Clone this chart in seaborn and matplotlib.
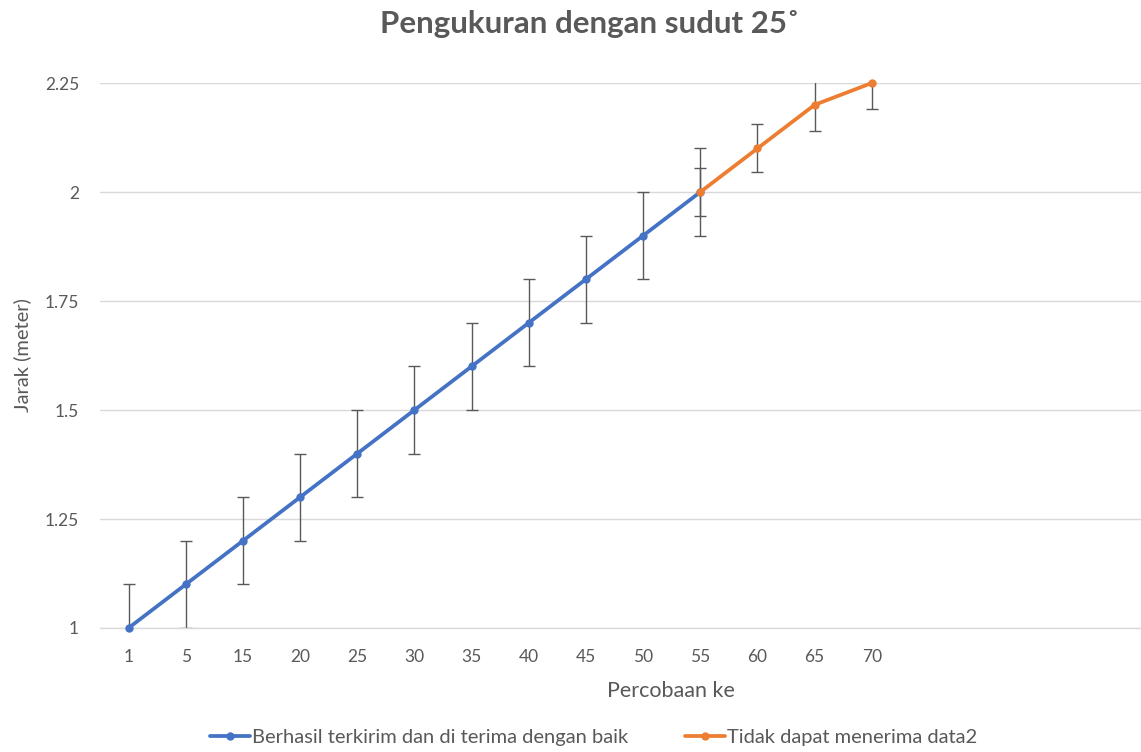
import matplotlib
matplotlib.use("Agg")
import matplotlib.pyplot as plt
import numpy as np
import pandas as pd
import seaborn as sns

# data
categories = ["1", "5", "15", "20", "25", "30", "35", "40", "45", "50", "55", "60", "65", "70"]
blue_values = [1.0, 1.1, 1.2, 1.3, 1.4, 1.5, 1.6, 1.7, 1.8, 1.9, 2.0]
blue_err = [0.1] * 11
orange_values = [2.0, 2.1, 2.2, 2.25]
orange_err = [0.055, 0.055, 0.06, 0.06]
y_ticks = [1, 1.25, 1.5, 1.75, 2, 2.25]
y_tick_labels = ["1", "1.25", "1.5", "1.75", "2", "2.25"]

label_blue = "Berhasil terkirim dan di terima dengan baik"
label_orange = "Tidak dapat menerima data2"

BLUE = "#4472C4"
ORANGE = "#ED7D31"
GREY = "#595959"
GRID = "#D9D9D9"

sns.set_theme(style="white")
plt.rcParams["font.family"] = ["Lato", "DejaVu Sans"]

pos = np.arange(len(categories))
df_blue = pd.DataFrame({"x": pos[:len(blue_values)], "y": blue_values, "err": blue_err})
df_orange = pd.DataFrame({"x": pos[len(blue_values) - 1:], "y": orange_values, "err": orange_err})

fig = plt.figure(figsize=(11.41, 7.52), dpi=100)
ax = fig.add_axes([0.0876, 0.1649, 0.912, 0.7247])

for df in (df_blue, df_orange):
    ax.errorbar(df["x"], df["y"], yerr=df["err"], fmt="none", ecolor=GREY,
                elinewidth=1, capsize=4, capthick=1, zorder=2)

sns.lineplot(data=df_blue, x="x", y="y", ax=ax, color=BLUE, linewidth=2.7,
             marker="o", markersize=6, markeredgewidth=0, label=label_blue,
             zorder=3, clip_on=False)
sns.lineplot(data=df_orange, x="x", y="y", ax=ax, color=ORANGE, linewidth=2.7,
             marker="o", markersize=6, markeredgewidth=0, label=label_orange,
             zorder=3, clip_on=False)

ax.set_xlim(-0.5, 17.7)
ax.set_ylim(1, 2.25)
ax.set_xticks(pos)
ax.set_xticklabels(categories)
ax.set_yticks(y_ticks)
ax.set_yticklabels(y_tick_labels)
ax.tick_params(axis="both", length=0, labelsize=12.5, labelcolor=GREY)
ax.tick_params(axis="y", pad=15)
ax.tick_params(axis="x", pad=15)
ax.yaxis.grid(True, color=GRID, linewidth=1)
ax.xaxis.grid(False)
for side in ("top", "right", "left"):
    ax.spines[side].set_visible(False)
ax.spines["bottom"].set_color(GRID)
ax.spines["bottom"].set_linewidth(1)

ax.set_xlabel("Percobaan ke", fontsize=15.5, color=GREY)
ax.xaxis.set_label_coords(0.549, -0.098)
ax.set_ylabel("Jarak (meter)", fontsize=14.5, color=GREY)
ax.yaxis.set_label_coords(-0.066, 0.5)

fig.text(0.517, 0.968, "Pengukuran dengan sudut 25˚", ha="center", va="center",
         fontsize=22.5, fontweight="bold", color=GREY)

handles, labels = ax.get_legend_handles_labels()
ax.get_legend().remove()
fig.legend(handles, labels, loc="center", bbox_to_anchor=(0.52, 0.019), ncol=2,
           frameon=False, fontsize=14.5, labelcolor=GREY, handlelength=2.0,
           handletextpad=0.1, columnspacing=2.8)

fig.savefig("out.png", dpi=100)
